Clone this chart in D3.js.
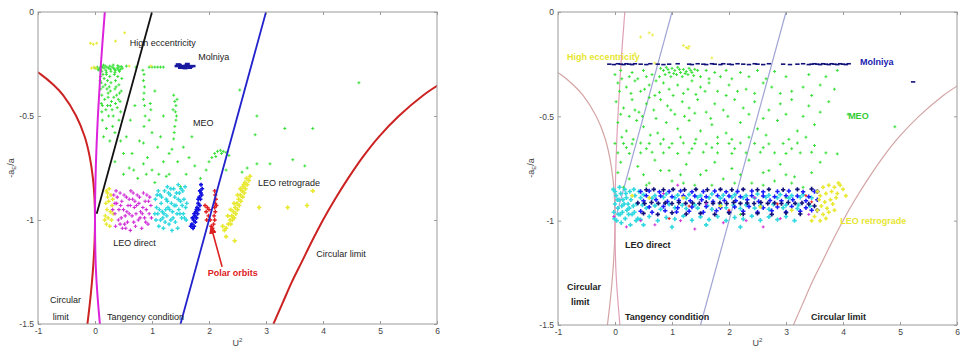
<!DOCTYPE html>
<html>
<head>
<meta charset="utf-8">
<script src="https://cdn.jsdelivr.net/npm/d3@7"></script>
<style>
body { margin: 0; background: #fff; }
text { font-family: "Liberation Sans", Arial, sans-serif; }
</style>
</head>
<body>
<svg id="chart" width="962" height="353"></svg>
<script>
// axis ticks
const xTicks = [-1, 0, 1, 2, 3, 4, 5, 6];
const yTicks = [0, -0.5, -1, -1.5];

// reference curves, [U^2, -aE/a]
const circDirect = [[-1.06,-0.28],[-0.95,-0.3],[-0.73,-0.35],[-0.56,-0.4],[-0.33,-0.5],[-0.18,-0.6],[-0.09,-0.7],[-0.036,-0.8],[-0.008,-0.9],[0,-1],[-0.007,-1.1],[-0.026,-1.2],[-0.054,-1.3],[-0.09,-1.4],[-0.133,-1.5]];
const circRetro = [[6.03,-0.35],[5.76,-0.4],[5.33,-0.5],[4.98,-0.6],[4.69,-0.7],[4.44,-0.8],[4.21,-0.9],[4.0,-1],[3.81,-1.1],[3.63,-1.2],[3.45,-1.3],[3.29,-1.4],[3.13,-1.5]];
const tangency = [[0.172,0],[0.104,-0.25],[0.051,-0.5],[0.014,-0.75],[0,-1],[0.018,-1.25],[0.086,-1.5]];
const polarLine = [[3,0],[1.5,-1.5]];
const eccLine = [[1,0],[0.03,-0.97]];
const polarArrow = [[2.23,-1.225],[2.04,-1.035]];

// ---- left panel point groups
const leftGreen = [
 [0.0,-0.27],[0.04,-0.265],[0.08,-0.27],[0.1,-0.275],[0.13,-0.265],[0.16,-0.27],[0.19,-0.28],[0.21,-0.265],[0.24,-0.27],[0.27,-0.275],[0.3,-0.265],[0.33,-0.27],[0.36,-0.28],[0.39,-0.27],[0.42,-0.265],[0.45,-0.275],[0.48,-0.27],[0.12,-0.285],[0.2,-0.29],[0.28,-0.285],[0.35,-0.29],[0.43,-0.285],[0.07,-0.28],[0.15,-0.255],[0.32,-0.255],[0.4,-0.258],
 [0.05,-0.275],[0.11,-0.26],[0.18,-0.26],[0.26,-0.26],[0.34,-0.275],[0.41,-0.278],[0.46,-0.262],
 [0.1,-0.31],[0.11,-0.34],[0.1,-0.37],[0.12,-0.4],[0.11,-0.44],[0.12,-0.48],[0.13,-0.52],[0.16,-0.32],[0.18,-0.35],[0.2,-0.3],[0.22,-0.33],[0.21,-0.37],[0.23,-0.41],[0.22,-0.45],[0.24,-0.5],[0.26,-0.31],[0.28,-0.34],[0.27,-0.38],[0.29,-0.43],[0.3,-0.47],[0.31,-0.55],[0.34,-0.3],[0.36,-0.33],[0.37,-0.36],[0.38,-0.4],[0.36,-0.44],[0.4,-0.31],[0.42,-0.35],[0.43,-0.39],[0.44,-0.43],[0.45,-0.48],[0.42,-0.52],[0.47,-0.32],[0.15,-0.6],[0.26,-0.62],[0.2,-0.56],[0.35,-0.58],
 [0.14,-0.3],[0.17,-0.42],[0.19,-0.47],[0.14,-0.36],[0.25,-0.36],[0.33,-0.41],[0.39,-0.46],[0.32,-0.5],[0.27,-0.45],[0.46,-0.38],[0.41,-0.42],[0.13,-0.45],[0.35,-0.37],[0.23,-0.39],[0.09,-0.33],
 [0.84,-0.28],[0.86,-0.3],[0.85,-0.33],[0.87,-0.36],[0.86,-0.39],[0.85,-0.42],[0.87,-0.45],[0.88,-0.5],[0.86,-0.55],[0.97,-0.44],[0.98,-0.47],
 [0.95,-0.265],[1.0,-0.265],[1.05,-0.265],[1.1,-0.265],[1.15,-0.265],[1.2,-0.265],[0.72,-0.265],[0.55,-0.26],
 [1.38,-0.4],[1.4,-0.43],[1.42,-0.45],[1.41,-0.48],[1.43,-0.5],[1.42,-0.52],[1.4,-0.55],[1.39,-0.58],[1.38,-0.61],[1.44,-0.42],[1.37,-0.47],
 [2.05,-0.7],[2.1,-0.68],[2.15,-0.67],[2.2,-0.665],[2.25,-0.67],[2.3,-0.675],[2.35,-0.69],[2.12,-0.695],[2.22,-0.68],[2.0,-0.72],
 [0.55,-0.6],[0.65,-0.68],[0.78,-0.62],[0.92,-0.7],[1.0,-0.58],[1.1,-0.65],[1.2,-0.72],[1.3,-0.68],[0.6,-0.75],[0.75,-0.8],[0.9,-0.78],[1.05,-0.82],[1.25,-0.79],[1.45,-0.72],[1.6,-0.78],[1.75,-0.74],[1.85,-0.8],[1.55,-0.65],[1.7,-0.6],[1.2,-0.5],[1.05,-0.38],[0.7,-0.45],[0.62,-0.52],
 [0.5,-0.68],[0.85,-0.63],[1.15,-0.6],[1.35,-0.66],[1.65,-0.7],[0.45,-0.62],[0.95,-0.52],[1.12,-0.78],
 [2.54,-0.375],[2.84,-0.5],[3.33,-0.56],[3.82,-0.56],[2.81,-0.59],[3.07,-0.73],[3.47,-0.71],[3.68,-0.74],[2.67,-0.75],[4.63,-0.34],[2.58,-0.77],[2.84,-0.73],
 [0.35,-0.72],[0.5,-0.78],[0.68,-0.76],[0.85,-0.73],[1.0,-0.76],[1.3,-0.78],[1.95,-0.76],[2.3,-0.76],[1.5,-0.84]
];
const leftYellowHigh = [[-0.08,-0.15],[-0.03,-0.155],[0.03,-0.15],[0.36,-0.14],[0.52,-0.1],[-0.06,-0.27],[-0.02,-0.265],[0.02,-0.27],[0.98,-0.26],[0.6,-0.26]];
const leftMolniya = [[1.44,-0.26],[1.48,-0.255],[1.52,-0.26],[1.56,-0.262],[1.6,-0.258],[1.64,-0.26],[1.68,-0.262],[1.72,-0.26],[1.5,-0.268],[1.58,-0.27],[1.66,-0.268],[1.46,-0.252],[1.62,-0.25]];
const leftYellowLeo = [[0.2,-0.86],[0.25,-0.85],[0.22,-0.89],[0.28,-0.88],[0.19,-0.92],[0.24,-0.91],[0.3,-0.93],[0.21,-0.95],[0.27,-0.96],[0.18,-0.98],[0.23,-0.99],[0.29,-1.0],[0.2,-1.02],[0.26,-1.03],[0.32,-0.97],[0.31,-0.9],[0.22,-0.87],[0.17,-1.0]];
const leftMagenta = [[0.33,-0.88],[0.38,-0.92],[0.35,-0.97],[0.41,-1.0],[0.36,-1.03],[0.44,-0.87],[0.47,-0.91],[0.5,-0.95],[0.46,-0.99],[0.52,-1.02],[0.55,-0.89],[0.58,-0.93],[0.6,-0.97],[0.57,-1.01],[0.63,-0.86],[0.66,-0.9],[0.69,-0.94],[0.65,-0.98],[0.71,-1.03],[0.74,-0.88],[0.77,-0.92],[0.8,-0.96],[0.76,-1.0],[0.82,-1.04],[0.85,-0.87],[0.88,-0.91],[0.9,-0.95],[0.87,-0.99],[0.93,-1.02],[0.96,-0.89],[0.98,-0.93],[0.95,-0.97],[0.42,-0.95],[0.62,-1.05],[0.72,-0.97],[0.84,-0.94],[0.53,-0.98],[0.39,-0.89],[0.68,-1.01],[0.79,-0.99],[0.91,-0.88],[0.48,-1.04],[0.6,-0.9],[0.35,-0.92],[0.73,-0.93],
 [0.31,-0.95],[0.37,-0.86],[0.45,-0.93],[0.51,-0.88],[0.56,-0.96],[0.62,-0.93],[0.67,-0.87],[0.7,-0.91],[0.78,-0.89],[0.83,-0.97],[0.89,-1.01],[0.94,-0.91],[0.99,-0.99],[0.54,-1.04],[0.44,-1.02]];
const leftCyan = [[1.06,-0.9],[1.08,-0.94],[1.1,-0.97],[1.07,-1.0],[1.12,-1.03],[1.14,-0.88],[1.16,-0.92],[1.18,-0.96],[1.15,-1.0],[1.2,-1.04],[1.22,-0.86],[1.25,-0.9],[1.27,-0.84],[1.28,-0.94],[1.26,-0.98],[1.3,-1.02],[1.32,-0.88],[1.34,-0.92],[1.36,-0.96],[1.33,-1.0],[1.38,-0.85],[1.4,-0.89],[1.42,-0.93],[1.44,-0.97],[1.41,-1.01],[1.46,-0.83],[1.48,-0.87],[1.5,-0.91],[1.47,-0.95],[1.52,-0.99],[1.54,-0.86],[1.56,-0.9],[1.58,-0.84],[1.59,-0.94],[1.55,-0.97],[1.6,-1.0],[1.24,-0.95],[1.11,-0.86],[1.45,-1.04],[1.35,-1.05],[1.29,-0.87],[1.19,-0.99],
 [1.09,-0.88],[1.13,-0.95],[1.17,-0.89],[1.21,-0.97],[1.23,-1.01],[1.27,-0.91],[1.31,-0.95],[1.33,-0.85],[1.37,-0.99],[1.39,-0.93],[1.43,-0.87],[1.49,-0.97],[1.51,-0.85],[1.53,-0.93],[1.57,-0.99],[1.61,-0.92],[1.46,-0.9],[1.05,-0.97]];
const leftBlue = [[1.86,-0.83],[1.88,-0.85],[1.84,-0.86],[1.87,-0.88],[1.83,-0.89],[1.85,-0.9],[1.81,-0.92],[1.84,-0.93],[1.79,-0.94],[1.82,-0.95],[1.77,-0.96],[1.8,-0.97],[1.75,-0.98],[1.78,-0.99],[1.73,-1.0],[1.76,-1.01],[1.7,-1.02],[1.74,-1.03],[1.68,-1.03],[1.72,-1.04],[1.86,-0.87],[1.81,-0.9],[1.78,-0.95],[1.74,-0.97],[1.71,-0.99]];
const leftRed = [[2.1,-0.86],[2.11,-0.88],[2.12,-0.9],[2.11,-0.92],[2.1,-0.94],[2.11,-0.96],[2.09,-0.98],[2.1,-1.0],[2.08,-1.02],[2.06,-1.04],[2.04,-1.03],[1.93,-0.93],[1.95,-0.96],[1.97,-0.94],[1.99,-0.98],[2.0,-0.95],[1.96,-1.0],[2.02,-1.0],[2.13,-0.93]];
const leftYellowRetro = [[2.66,-0.8],[2.7,-0.81],[2.63,-0.82],[2.67,-0.83],[2.6,-0.84],[2.64,-0.85],[2.58,-0.86],[2.62,-0.87],[2.55,-0.88],[2.59,-0.89],[2.52,-0.9],[2.56,-0.91],[2.49,-0.92],[2.53,-0.93],[2.46,-0.94],[2.5,-0.95],[2.43,-0.96],[2.47,-0.97],[2.4,-0.98],[2.44,-0.99],[2.37,-1.0],[2.41,-1.0],[2.34,-1.02],[2.38,-1.02],[2.3,-1.04],[2.27,-1.05],[2.61,-0.83],[2.55,-0.85],[2.5,-0.88],[2.44,-0.92],[2.38,-0.95],[2.33,-0.98],[2.72,-0.79],[2.24,-1.03],[2.88,-0.94],[3.38,-0.94],[3.82,-0.86],[3.72,-0.93],[2.45,-1.1],[2.3,-1.08]];

// ---- right panel point groups
const rightGreen = [
 [0.8,-0.27],[0.85,-0.28],[0.9,-0.265],[0.95,-0.29],[1.0,-0.27],[1.05,-0.28],[1.1,-0.265],[1.15,-0.29],[1.2,-0.275],[1.25,-0.285],[1.3,-0.27],[1.35,-0.29],[1.4,-0.275],[1.45,-0.28],[0.88,-0.3],[0.98,-0.31],[1.08,-0.3],[1.18,-0.31],[1.28,-0.3],[1.38,-0.305],[0.93,-0.275],[1.13,-0.275],[1.33,-0.28],[1.03,-0.295],[1.23,-0.295],
 [0.1,-0.28],[0.3,-0.29],[0.5,-0.28],[0.65,-0.3],[1.6,-0.28],[1.75,-0.29],[1.95,-0.28],[2.2,-0.29],[2.5,-0.28],[2.8,-0.285],[3.9,-0.28],
 [0.0,-0.3],[0.12,-0.32],[0.25,-0.31],[0.4,-0.32],[0.55,-0.31],[0.72,-0.33],[0.78,-0.31],[1.5,-0.31],[1.65,-0.32],[1.85,-0.31],[2.05,-0.32],[2.35,-0.31],[2.65,-0.32],[3.0,-0.31],[3.4,-0.3],[3.7,-0.31],
 [0.05,-0.34],[0.2,-0.36],[0.35,-0.33],[0.45,-0.38],[0.6,-0.35],[0.7,-0.4],[0.85,-0.34],[0.95,-0.37],[1.1,-0.35],[1.2,-0.39],[1.35,-0.33],[1.5,-0.36],[1.65,-0.34],[1.8,-0.38],[2.0,-0.35],[2.3,-0.37],[2.6,-0.34],[2.9,-0.39],[3.3,-0.36],[3.6,-0.35],
 [0.08,-0.38],[0.28,-0.39],[0.52,-0.37],[0.78,-0.385],[1.02,-0.4],[1.28,-0.37],[1.42,-0.395],[1.58,-0.38],[1.95,-0.4],[2.15,-0.38],[2.45,-0.39],[2.75,-0.36],[3.1,-0.38],[3.45,-0.4],[3.85,-0.37],
 [0.02,-0.43],[0.15,-0.46],[0.3,-0.42],[0.42,-0.48],[0.55,-0.44],[0.68,-0.47],[0.8,-0.42],[0.92,-0.45],[1.05,-0.49],[1.18,-0.43],[1.3,-0.46],[1.45,-0.42],[1.6,-0.48],[1.75,-0.44],[1.9,-0.47],[2.1,-0.42],[2.25,-0.46],[2.45,-0.43],[2.7,-0.47],[2.9,-0.44],[3.1,-0.42],[3.4,-0.45],[3.75,-0.43],[0.25,-0.5],[0.6,-0.41],
 [0.1,-0.49],[0.35,-0.47],[0.48,-0.5],[0.72,-0.51],[0.98,-0.47],[1.22,-0.5],[1.4,-0.485],[1.68,-0.51],[1.98,-0.5],[2.35,-0.49],[2.6,-0.51],[3.0,-0.49],[3.3,-0.5],[3.6,-0.48],
 [0.05,-0.53],[0.2,-0.57],[0.38,-0.52],[0.5,-0.55],[0.75,-0.58],[0.9,-0.53],[1.1,-0.56],[1.3,-0.52],[1.5,-0.57],[1.7,-0.54],[1.95,-0.58],[2.2,-0.53],[2.5,-0.56],[2.85,-0.52],[3.2,-0.57],[3.5,-0.54],
 [0.12,-0.6],[0.32,-0.61],[0.62,-0.59],[0.85,-0.61],[1.15,-0.6],[1.42,-0.61],[1.8,-0.6],[2.05,-0.61],[2.35,-0.6],[2.65,-0.59],[3.05,-0.61],[3.35,-0.6],
 [0.0,-0.63],[0.15,-0.63],[0.3,-0.632],[0.45,-0.628],[0.6,-0.63],[0.8,-0.632],[1.0,-0.63],[1.2,-0.628],[1.4,-0.63],[1.6,-0.632],[1.8,-0.63],[2.0,-0.63],[2.2,-0.628],[2.45,-0.63],[2.7,-0.632],[2.95,-0.63],[3.2,-0.628],[3.5,-0.64],
 [0.2,-0.65],[0.55,-0.655],[0.95,-0.65],[1.35,-0.655],[1.7,-0.65],[2.1,-0.655],[2.6,-0.65],[3.1,-0.655],
 [0.05,-0.675],[0.25,-0.678],[0.45,-0.675],[0.65,-0.672],[0.85,-0.675],[1.1,-0.678],[1.3,-0.675],[1.55,-0.672],[1.8,-0.675],[2.05,-0.678],[2.3,-0.675],[2.55,-0.672],[2.8,-0.675],[3.0,-0.678],[3.25,-0.675],[3.45,-0.672],[3.7,-0.675],[3.9,-0.68],
 [0.1,-0.72],[0.4,-0.74],[0.7,-0.71],[0.95,-0.76],[1.25,-0.73],[1.5,-0.78],[1.75,-0.72],[2.05,-0.75],[2.35,-0.71],[2.6,-0.77],[2.9,-0.73],[3.15,-0.79],[0.25,-0.8],[0.6,-0.82],[1.0,-0.81],[1.4,-0.83],[1.9,-0.8],[2.4,-0.82],[2.8,-0.81],[3.3,-0.84],[3.6,-0.72],
 [0.05,-0.77],[0.5,-0.78],[0.8,-0.76],[1.15,-0.78],[1.6,-0.76],[2.2,-0.78],[2.7,-0.76],[3.0,-0.78],[3.45,-0.77],
 [0.15,-0.84],[0.55,-0.83],[1.2,-0.82],[1.7,-0.83],[2.1,-0.82],[2.6,-0.83],[3.1,-0.82],
 [4.91,-0.55],[4.09,-0.49],[0.7,-0.93],[1.4,-0.88],[2.2,-0.97],[3.0,-0.89]
];
const rightYellowHigh = [[0.45,-0.12],[0.6,-0.1],[0.66,-0.11],[1.2,-0.16],[1.25,-0.17],[1.3,-0.165],[1.28,-0.175],[0.35,-0.2],[0.7,-0.245],[1.7,-0.22]];
const rightMolniya = [[-0.1,-0.25],[-0.02,-0.252],[0.05,-0.248],[0.1,-0.25],[0.15,-0.252],[0.2,-0.248],[0.25,-0.25],[0.3,-0.252],[0.35,-0.248],[0.45,-0.25],[0.55,-0.252],[0.62,-0.248],[0.75,-0.25],[0.85,-0.252],[0.95,-0.25],[1.1,-0.248],[1.3,-0.25],[1.35,-0.252],[1.45,-0.248],[1.55,-0.25],[1.6,-0.252],[1.7,-0.248],[1.75,-0.25],[1.85,-0.252],[1.9,-0.248],[2.0,-0.25],[2.05,-0.252],[2.15,-0.248],[2.25,-0.25],[2.35,-0.252],[2.45,-0.248],[2.5,-0.25],[2.6,-0.252],[2.7,-0.248],[2.95,-0.25],[3.07,-0.252],[3.2,-0.25],[3.3,-0.248],[3.4,-0.252],[3.45,-0.25],[3.5,-0.248],[3.55,-0.25],[3.6,-0.252],[3.65,-0.248],[3.7,-0.25],[3.75,-0.252],[3.8,-0.248],[3.85,-0.25],[3.9,-0.252],[3.95,-0.248],[4.0,-0.25],[4.05,-0.252],[4.1,-0.248],[5.23,-0.335]];
const rightCyan = [[-0.03,-0.85],[0.02,-0.88],[0.0,-0.92],[-0.02,-0.96],[0.03,-1.0],[0.08,-0.84],[0.1,-0.87],[0.07,-0.9],[0.12,-0.93],[0.09,-0.97],[0.11,-1.01],[0.17,-0.85],[0.2,-0.89],[0.16,-0.92],[0.21,-0.95],[0.18,-0.99],[0.26,-0.86],[0.28,-0.9],[0.25,-0.94],[0.3,-0.97],[0.27,-1.02],[0.35,-0.88],[0.38,-0.92],[0.34,-0.96],[0.4,-0.99],[0.05,-0.94],[0.14,-0.9],[0.23,-0.92],[0.32,-0.93],[0.42,-0.86],
 [0.0,-0.86],[0.04,-0.9],[-0.01,-0.99],[0.06,-0.97],[0.13,-0.96],[0.19,-0.87],[0.24,-0.97],[0.33,-0.85],[0.37,-1.0],
 [0.5,-0.875],[0.7,-0.88],[0.9,-0.872],[1.1,-0.878],[1.3,-0.875],[1.5,-0.88],[1.7,-0.872],[1.9,-0.878],[2.1,-0.875],[2.3,-0.88],[2.5,-0.872],[2.7,-0.878],[2.9,-0.875],[3.1,-0.88],[3.3,-0.875],
 [0.45,-0.89],[0.65,-0.892],[0.85,-0.888],[1.05,-0.89],[1.25,-0.892],[1.45,-0.888],[1.65,-0.89],[1.85,-0.892],[2.05,-0.888],[2.25,-0.89],[2.45,-0.892],[2.65,-0.888],[2.85,-0.89],[3.05,-0.892],[3.25,-0.888],[3.45,-0.89],
 [0.48,-0.925],[0.7,-0.928],[0.95,-0.922],[1.18,-0.926],[1.4,-0.925],[1.62,-0.928],[1.85,-0.922],[2.08,-0.926],[2.3,-0.925],[2.55,-0.928],[2.78,-0.922],[3.0,-0.926],[3.22,-0.925],[3.42,-0.93],
 [0.55,-0.94],[0.8,-0.945],[1.05,-0.938],[1.25,-0.942],[1.45,-0.94],[1.7,-0.945],[1.95,-0.938],[2.2,-0.942],[2.45,-0.94],[2.7,-0.945],[2.95,-0.938],[3.2,-0.942],
 [0.6,-0.98],[0.9,-0.985],[1.2,-0.978],[1.5,-0.982],[1.8,-0.98],[2.1,-0.985],[2.4,-0.978],[2.7,-0.982],[3.0,-0.98],
 [0.45,-0.995],[0.75,-1.0],[1.05,-0.992],[1.35,-0.998],[1.65,-0.995],[1.95,-1.0],[2.25,-0.992],[2.55,-0.998],[2.85,-0.995],[3.15,-1.0],
 [0.5,-1.02],[1.0,-1.03],[1.6,-1.02],[2.2,-1.03]];
const rightBlue = [[0.45,-0.86],[0.6,-0.858],[0.78,-0.862],[0.95,-0.86],[1.15,-0.858],[1.35,-0.862],[1.55,-0.86],[1.75,-0.858],[1.95,-0.862],[2.15,-0.86],[2.4,-0.858],[2.6,-0.862],[2.85,-0.86],[3.05,-0.858],[3.3,-0.862],[3.5,-0.86],
 [0.55,-0.88],[0.8,-0.882],[1.0,-0.885],[1.2,-0.88],[1.4,-0.882],[1.6,-0.885],[1.8,-0.88],[2.0,-0.882],[2.2,-0.885],[2.4,-0.88],[2.6,-0.882],[2.8,-0.885],[3.0,-0.88],[3.2,-0.882],[3.4,-0.885],
 [0.5,-0.905],[0.72,-0.9],[0.92,-0.908],[1.12,-0.903],[1.32,-0.905],[1.52,-0.9],[1.72,-0.908],[1.92,-0.903],[2.12,-0.905],[2.32,-0.9],[2.52,-0.908],[2.72,-0.903],[2.92,-0.905],[3.12,-0.9],[3.35,-0.905],[3.55,-0.9],
 [0.6,-0.935],[0.85,-0.932],[1.1,-0.938],[1.35,-0.935],[1.6,-0.932],[1.85,-0.938],[2.1,-0.935],[2.35,-0.932],[2.6,-0.938],[2.85,-0.935],[3.1,-0.932],[3.35,-0.938],
 [0.45,-0.955],[0.65,-0.96],[0.88,-0.952],[1.08,-0.958],[1.3,-0.955],[1.55,-0.96],[1.78,-0.952],[2.0,-0.958],[2.25,-0.955],[2.5,-0.96],[2.75,-0.952],[3.0,-0.958],[3.25,-0.955],[3.45,-0.95]];
const rightNavy = [[0.55,-0.852],[0.68,-0.85],[0.85,-0.852],[1.02,-0.85],[1.22,-0.852],[1.42,-0.85],[1.62,-0.852],[1.85,-0.85],[2.05,-0.852],[2.25,-0.85],[2.5,-0.852],[2.7,-0.85],[2.95,-0.852],[3.2,-0.85],[3.45,-0.848],[3.55,-0.86],
 [0.4,-0.915],[0.52,-0.918],[0.64,-0.913],[0.76,-0.917],[0.88,-0.915],[1.0,-0.918],[1.12,-0.913],[1.24,-0.917],[1.36,-0.915],[1.48,-0.918],[1.6,-0.913],[1.72,-0.917],[1.84,-0.915],[1.96,-0.918],[2.08,-0.913],[2.2,-0.917],[2.32,-0.915],[2.44,-0.918],[2.56,-0.913],[2.68,-0.917],[2.8,-0.915],[2.92,-0.918],[3.04,-0.913],[3.16,-0.917],[3.28,-0.915],[3.4,-0.92],[3.5,-0.93],[3.55,-0.95],
 [0.5,-0.965],[0.75,-0.97],[1.0,-0.962],[1.25,-0.968],[1.5,-0.965],[1.75,-0.97],[2.0,-0.962],[2.25,-0.968],[2.5,-0.965],[2.75,-0.97],[3.0,-0.962],[3.25,-0.968]];
const rightMagenta = [[0.2,-1.03],[0.45,-1.0],[0.7,-1.02],[1.15,-1.0],[1.4,-1.04],[1.9,-1.01],[2.3,-1.0],[2.6,-1.03],[2.9,-0.99],[0.85,-0.87],[1.6,-0.92],[2.45,-0.89],[3.4,-0.97],[1.1,-0.83],[-0.02,-0.98]];
const rightRed = [[1.3,-0.93],[2.0,-0.95],[2.85,-0.92],[3.45,-0.91],[0.95,-0.99],[3.35,-0.88]];
const rightYellow = [[0.6,-0.89],[1.2,-0.89],[1.85,-0.93],[2.55,-0.935],[0.3,-0.88],[3.1,-0.95],
 [3.55,-0.86],[3.65,-0.84],[3.75,-0.83],[3.85,-0.84],[3.95,-0.83],[3.6,-0.88],[3.7,-0.87],[3.8,-0.86],[3.9,-0.87],[4.0,-0.85],[3.58,-0.9],[3.68,-0.91],[3.78,-0.9],[3.88,-0.89],[3.62,-0.93],[3.72,-0.94],[3.82,-0.92],[3.55,-0.95],[3.65,-0.97],[3.75,-0.96],[3.5,-0.98],[3.6,-1.0],[3.45,-1.0],[3.92,-0.82],[4.05,-0.88],[3.7,-0.99],[3.85,-0.95]];

const svg = d3.select("#chart");

function drawPanel(cfg) {
    let x = d3.scaleLinear().domain([-1, 6]).range([cfg.x0, cfg.x1]);
    let y = d3.scaleLinear().domain([-1.5, 0]).range([cfg.y1, cfg.y0]);
    let g = svg.append("g");

    svg.append("clipPath").attr("id", "clip" + cfg.id)
        .append("rect")
        .attr("x", cfg.x0).attr("y", cfg.y0)
        .attr("width", cfg.x1 - cfg.x0).attr("height", cfg.y1 - cfg.y0);

    let line = d3.line()
        .x(d => x(d[0]))
        .y(d => y(d[1]))
        .curve(d3.curveCatmullRom);

    let curveLayer = g.append("g").attr("clip-path", "url(#clip" + cfg.id + ")");
    let pointLayer = g.append("g").attr("clip-path", "url(#clip" + cfg.id + ")");
    if (cfg.curvesOnTop) curveLayer.raise();

    // theory curves
    cfg.curves.forEach(function(c) {
        curveLayer.append("path")
            .attr("d", line(c.data))
            .attr("fill", "none")
            .attr("stroke", c.color)
            .attr("stroke-width", c.width);
    });

    // scatter groups, small "+" marks
    cfg.groups.forEach(function(grp) {
        let s = grp.size;
        pointLayer.append("g").selectAll("path")
            .data(grp.data)
            .enter().append("path")
            .attr("d", function(d) {
                let px = x(d[0]), py = y(d[1]);
                if (grp.dash) return "M" + (px - s) + "," + py + "h" + (2 * s);
                return "M" + (px - s) + "," + py + "h" + (2 * s) + "M" + px + "," + (py - s) + "v" + (2 * s);
            })
            .attr("stroke", grp.color)
            .attr("stroke-width", grp.sw)
            .attr("fill", "none");
    });

    // frame
    g.append("rect")
        .attr("x", cfg.x0).attr("y", cfg.y0)
        .attr("width", cfg.x1 - cfg.x0).attr("height", cfg.y1 - cfg.y0)
        .attr("fill", "none").attr("stroke", "#9a9a9a").attr("stroke-width", 1);

    let fmt = d => String(d);
    let axes = [
        {ax: d3.axisBottom(x).tickValues(xTicks).tickFormat(fmt), tr: "translate(0," + cfg.y1 + ")"},
        {ax: d3.axisTop(x).tickValues(xTicks).tickFormat(""), tr: "translate(0," + cfg.y0 + ")"},
        {ax: d3.axisLeft(y).tickValues(yTicks).tickFormat(fmt), tr: "translate(" + cfg.x0 + ",0)"},
        {ax: d3.axisRight(y).tickValues(yTicks).tickFormat(""), tr: "translate(" + cfg.x1 + ",0)"}
    ];
    axes.forEach(function(a) {
        let ag = g.append("g").attr("transform", a.tr)
            .call(a.ax.tickSizeInner(-3).tickSizeOuter(0).tickPadding(4));
        ag.select(".domain").remove();
        ag.selectAll("line").attr("stroke", "#9a9a9a");
        ag.selectAll("text").attr("fill", "#444").style("font-size", "8.5px")
            .style("font-family", "'Liberation Sans', Arial, sans-serif");
    });

    // axis titles
    let xt = g.append("text")
        .attr("x", (cfg.x0 + cfg.x1) / 2).attr("y", 346)
        .attr("text-anchor", "middle").attr("fill", "#444").style("font-size", "9px")
        .text("U");
    xt.append("tspan").attr("dy", -4).style("font-size", "6px").text("2");

    let yt = g.append("text")
        .attr("transform", "translate(" + (cfg.x0 - 24) + "," + 168 + ") rotate(-90)")
        .attr("text-anchor", "middle").attr("fill", "#444").style("font-size", "9px")
        .text("-a");
    yt.append("tspan").attr("dy", 2).style("font-size", "6px").text("E");
    yt.append("tspan").attr("dy", -2).text("/a");

    // annotations
    cfg.labels.forEach(function(l) {
        g.append("text")
            .attr("x", x(l.u)).attr("y", y(l.v))
            .attr("fill", l.color || "#222")
            .style("font-size", "9px")
            .style("font-weight", l.bold ? "bold" : "normal")
            .text(l.text);
    });

    if (cfg.arrow) {
        g.append("line")
            .attr("x1", x(cfg.arrow[0][0])).attr("y1", y(cfg.arrow[0][1]))
            .attr("x2", x(cfg.arrow[1][0])).attr("y2", y(cfg.arrow[1][1]))
            .attr("stroke", "#dd2020").attr("stroke-width", 1.6)
            .attr("marker-end", "url(#arrowRed)");
    }
}

svg.append("defs").append("marker")
    .attr("id", "arrowRed")
    .attr("viewBox", "0 0 10 10").attr("refX", 8).attr("refY", 5)
    .attr("markerWidth", 5).attr("markerHeight", 5).attr("orient", "auto")
    .append("path").attr("d", "M0,0L10,5L0,10z").attr("fill", "#dd2020");

drawPanel({
    id: "L", x0: 38, x1: 437, y0: 12, y1: 324, curvesOnTop: true,
    curves: [
        {data: circDirect, color: "#cc2222", width: 2},
        {data: circRetro, color: "#cc2222", width: 2},
        {data: tangency, color: "#dd22dd", width: 2},
        {data: eccLine, color: "#111111", width: 1.8},
        {data: polarLine, color: "#2222cc", width: 1.8}
    ],
    groups: [
        {data: leftGreen, color: "#3ae03a", size: 1.5, sw: 1},
        {data: leftYellowHigh, color: "#e8e830", size: 1.5, sw: 1},
        {data: leftYellowLeo, color: "#e8e830", size: 2, sw: 1.4},
        {data: leftMagenta, color: "#d030d8", size: 1.8, sw: 1.1},
        {data: leftCyan, color: "#30d8e0", size: 2, sw: 1.4},
        {data: leftBlue, color: "#1010e0", size: 2, sw: 1.6},
        {data: leftRed, color: "#e02020", size: 2, sw: 1.4},
        {data: leftYellowRetro, color: "#e8e830", size: 2.2, sw: 1.6},
        {data: leftMolniya, color: "#1a1aa0", size: 2.5, sw: 2.5, dash: true}
    ],
    labels: [
        {text: "High eccentricity", u: 0.61, v: -0.163},
        {text: "Molniya", u: 1.81, v: -0.231},
        {text: "MEO", u: 1.72, v: -0.548},
        {text: "LEO retrograde", u: 2.86, v: -0.837},
        {text: "Circular limit", u: 3.88, v: -1.178},
        {text: "LEO direct", u: 0.32, v: -1.125},
        {text: "Circular", u: -0.79, v: -1.399},
        {text: "limit", u: -0.74, v: -1.481},
        {text: "Tangency condition", u: 0.21, v: -1.481},
        {text: "Polar orbits", u: 1.98, v: -1.269, color: "#dd2020", bold: true}
    ],
    arrow: polarArrow
});

drawPanel({
    id: "R", x0: 558, x1: 957, y0: 12, y1: 325, curvesOnTop: false,
    curves: [
        {data: circDirect, color: "#d4a4a4", width: 1.2},
        {data: circRetro, color: "#d4a4a4", width: 1.2},
        {data: tangency, color: "#e0a0b8", width: 1.2},
        {data: eccLine, color: "#a0a4d4", width: 1.2},
        {data: polarLine, color: "#a0a4d4", width: 1.2}
    ],
    groups: [
        {data: rightGreen, color: "#3ae03a", size: 1.5, sw: 1},
        {data: rightYellowHigh, color: "#ecec50", size: 1.5, sw: 1},
        {data: rightCyan, color: "#30d8e0", size: 2.2, sw: 1.6},
        {data: rightBlue, color: "#1a1aff", size: 2.2, sw: 1.5},
        {data: rightNavy, color: "#10107a", size: 2.2, sw: 1.6},
        {data: rightMagenta, color: "#d030d8", size: 1.5, sw: 1},
        {data: rightRed, color: "#e02020", size: 1.5, sw: 1},
        {data: rightYellow, color: "#e8e830", size: 2, sw: 1.5},
        {data: rightMolniya, color: "#10107a", size: 2.2, sw: 1.6, dash: true}
    ],
    labels: [
        {text: "High eccentricity", u: -0.84, v: -0.23, color: "#e6e630", bold: true},
        {text: "Molniya", u: 4.30, v: -0.254, color: "#2020b0", bold: true},
        {text: "MEO", u: 4.09, v: -0.513, color: "#33cc33", bold: true},
        {text: "LEO retrograde", u: 3.95, v: -1.016, color: "#e6e630", bold: true},
        {text: "LEO direct", u: 0.175, v: -1.131, bold: true},
        {text: "Circular", u: -0.84, v: -1.333, bold: true},
        {text: "limit", u: -0.77, v: -1.405, bold: true},
        {text: "Tangency condition", u: 0.175, v: -1.477, bold: true},
        {text: "Circular limit", u: 3.44, v: -1.477, bold: true}
    ]
});
</script>
</body>
</html>
